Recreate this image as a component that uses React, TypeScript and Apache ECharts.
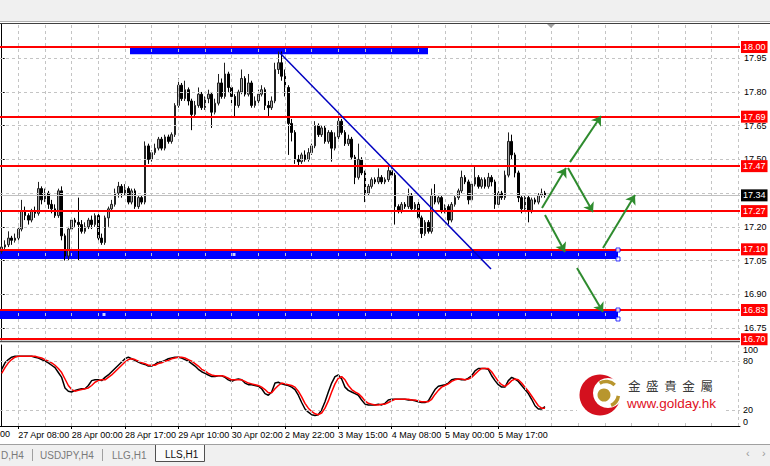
import React, { useEffect, useRef } from 'react';
import * as echarts from 'echarts';

// ---------- data ----------
const timeLabels = ['27 Apr 08:00', '28 Apr 00:00', '28 Apr 17:00', '29 Apr 10:00', '30 Apr 02:00', '2 May 22:00', '3 May 15:00', '4 May 08:00', '5 May 00:00', '5 May 17:00'];
const timeLabelBars = [5, 21, 37, 53, 69, 85, 101, 117, 133, 149];
const TOTAL_BARS = 222;

// [open, close, low, high]
const candles: number[][] = [
  [17.09, 17.11, 17.08, 17.12], [17.11, 17.12, 17.10, 17.14], [17.12, 17.15, 17.11, 17.18], [17.15, 17.14, 17.12, 17.16], [17.14, 17.15, 17.13, 17.17],
  [17.15, 17.19, 17.14, 17.20], [17.19, 17.27, 17.18, 17.32], [17.27, 17.25, 17.23, 17.29], [17.25, 17.23, 17.21, 17.26], [17.23, 17.27, 17.22, 17.28],
  [17.27, 17.26, 17.24, 17.29], [17.26, 17.37, 17.25, 17.40], [17.37, 17.32, 17.30, 17.38], [17.32, 17.35, 17.31, 17.37], [17.35, 17.30, 17.28, 17.36],
  [17.30, 17.28, 17.26, 17.32], [17.28, 17.25, 17.24, 17.30], [17.25, 17.36, 17.24, 17.37], [17.36, 17.16, 17.14, 17.38], [17.16, 17.07, 17.05, 17.17],
  [17.07, 17.19, 17.05, 17.20], [17.19, 17.23, 17.18, 17.24], [17.23, 17.22, 17.20, 17.24], [17.22, 17.21, 17.05, 17.33], [17.21, 17.18, 17.17, 17.23],
  [17.18, 17.20, 17.17, 17.22], [17.20, 17.23, 17.19, 17.24], [17.23, 17.21, 17.19, 17.25], [17.21, 17.25, 17.20, 17.26], [17.25, 17.15, 17.14, 17.26],
  [17.15, 17.13, 17.12, 17.17], [17.13, 17.24, 17.12, 17.25], [17.24, 17.28, 17.20, 17.29], [17.28, 17.30, 17.27, 17.32], [17.30, 17.35, 17.29, 17.37],
  [17.35, 17.38, 17.33, 17.40], [17.38, 17.35, 17.33, 17.39], [17.35, 17.37, 17.34, 17.39], [17.37, 17.31, 17.30, 17.38], [17.31, 17.36, 17.30, 17.37],
  [17.36, 17.29, 17.28, 17.37], [17.29, 17.33, 17.28, 17.34], [17.33, 17.31, 17.30, 17.34], [17.31, 17.56, 17.30, 17.58], [17.56, 17.50, 17.48, 17.57],
  [17.50, 17.53, 17.49, 17.54], [17.53, 17.55, 17.52, 17.57], [17.55, 17.59, 17.54, 17.60], [17.59, 17.55, 17.54, 17.60], [17.55, 17.60, 17.54, 17.61],
  [17.60, 17.58, 17.57, 17.61], [17.58, 17.61, 17.57, 17.62], [17.61, 17.74, 17.60, 17.75], [17.74, 17.83, 17.73, 17.86], [17.83, 17.77, 17.76, 17.84],
  [17.77, 17.81, 17.76, 17.85], [17.81, 17.76, 17.74, 17.82], [17.76, 17.70, 17.63, 17.77], [17.70, 17.74, 17.69, 17.76], [17.74, 17.79, 17.73, 17.82],
  [17.79, 17.73, 17.72, 17.80], [17.73, 17.77, 17.72, 17.78], [17.77, 17.79, 17.75, 17.81], [17.79, 17.71, 17.64, 17.80], [17.71, 17.75, 17.70, 17.77],
  [17.75, 17.84, 17.74, 17.88], [17.84, 17.78, 17.77, 17.86], [17.78, 17.88, 17.77, 17.93], [17.88, 17.82, 17.80, 17.89], [17.82, 17.78, 17.74, 17.83],
  [17.78, 17.74, 17.69, 17.79], [17.74, 17.80, 17.73, 17.81], [17.80, 17.86, 17.79, 17.90], [17.86, 17.79, 17.78, 17.87], [17.79, 17.84, 17.78, 17.88],
  [17.84, 17.74, 17.73, 17.85], [17.74, 17.76, 17.73, 17.78], [17.76, 17.79, 17.75, 17.81], [17.79, 17.81, 17.78, 17.83], [17.81, 17.74, 17.72, 17.82],
  [17.74, 17.73, 17.69, 17.76], [17.73, 17.76, 17.72, 17.78], [17.76, 17.90, 17.75, 17.93], [17.90, 17.93, 17.88, 17.98], [17.93, 17.87, 17.85, 17.98],
  [17.87, 17.82, 17.78, 17.90], [17.82, 17.66, 17.52, 17.83], [17.66, 17.62, 17.58, 17.68], [17.62, 17.50, 17.48, 17.63], [17.50, 17.49, 17.47, 17.52],
  [17.49, 17.52, 17.48, 17.53], [17.52, 17.50, 17.49, 17.54], [17.50, 17.53, 17.49, 17.55], [17.53, 17.56, 17.52, 17.57], [17.56, 17.65, 17.55, 17.67],
  [17.65, 17.61, 17.60, 17.66], [17.61, 17.64, 17.60, 17.65], [17.64, 17.58, 17.57, 17.65], [17.58, 17.62, 17.57, 17.63], [17.62, 17.55, 17.49, 17.63],
  [17.55, 17.60, 17.54, 17.62], [17.60, 17.67, 17.59, 17.70], [17.67, 17.62, 17.61, 17.68], [17.62, 17.57, 17.56, 17.63], [17.57, 17.59, 17.56, 17.61],
  [17.59, 17.51, 17.50, 17.60], [17.51, 17.42, 17.39, 17.52], [17.42, 17.50, 17.41, 17.57], [17.50, 17.44, 17.43, 17.51], [17.44, 17.35, 17.31, 17.45],
  [17.35, 17.38, 17.34, 17.39], [17.38, 17.41, 17.37, 17.42], [17.41, 17.40, 17.39, 17.42], [17.40, 17.42, 17.39, 17.46], [17.42, 17.40, 17.39, 17.43],
  [17.40, 17.41, 17.39, 17.42], [17.41, 17.45, 17.40, 17.47], [17.45, 17.43, 17.42, 17.46], [17.43, 17.29, 17.21, 17.44], [17.29, 17.27, 17.26, 17.30],
  [17.27, 17.30, 17.26, 17.31], [17.30, 17.29, 17.28, 17.31], [17.29, 17.34, 17.28, 17.37], [17.34, 17.28, 17.27, 17.35], [17.28, 17.30, 17.27, 17.31],
  [17.30, 17.24, 17.23, 17.31], [17.24, 17.17, 17.15, 17.25], [17.17, 17.22, 17.16, 17.23], [17.22, 17.18, 17.17, 17.23], [17.18, 17.34, 17.17, 17.37],
  [17.34, 17.31, 17.30, 17.39], [17.31, 17.33, 17.30, 17.34], [17.33, 17.27, 17.26, 17.34], [17.27, 17.29, 17.26, 17.30], [17.29, 17.23, 17.21, 17.30],
  [17.23, 17.30, 17.22, 17.31], [17.30, 17.33, 17.29, 17.34], [17.33, 17.36, 17.32, 17.37], [17.36, 17.42, 17.35, 17.45], [17.42, 17.40, 17.39, 17.43],
  [17.40, 17.32, 17.30, 17.41], [17.32, 17.39, 17.31, 17.40], [17.39, 17.42, 17.38, 17.47], [17.42, 17.38, 17.37, 17.43], [17.38, 17.41, 17.37, 17.42],
  [17.41, 17.38, 17.37, 17.42], [17.38, 17.42, 17.37, 17.44], [17.42, 17.40, 17.38, 17.43], [17.40, 17.30, 17.28, 17.41], [17.30, 17.35, 17.29, 17.36],
  [17.35, 17.33, 17.32, 17.36], [17.33, 17.43, 17.32, 17.45], [17.43, 17.58, 17.42, 17.62], [17.58, 17.52, 17.50, 17.61], [17.52, 17.44, 17.42, 17.53],
  [17.44, 17.33, 17.31, 17.45], [17.33, 17.28, 17.26, 17.34], [17.28, 17.33, 17.27, 17.34], [17.33, 17.27, 17.22, 17.34], [17.27, 17.32, 17.26, 17.33],
  [17.32, 17.31, 17.30, 17.33], [17.31, 17.34, 17.30, 17.35], [17.34, 17.35, 17.33, 17.37], [17.35, 17.34, 17.33, 17.36],
];

const stochK = [
  70, 78, 82, 85, 86, 86, 86, 86, 86, 86,
  85, 84, 82, 80, 78, 75, 72, 66, 60, 47,
  43, 42, 44, 45, 46, 46, 50, 56, 57, 57,
  56, 60, 63, 67, 71, 75, 79, 83, 85, 83,
  81, 79, 77, 76, 74, 74, 76, 79, 79, 81,
  83, 84, 85, 85, 84, 82, 80, 77, 74, 70,
  67, 65, 63, 61, 61, 62, 62, 60, 57, 55,
  57, 58, 57, 53, 51, 51, 50, 49, 46, 40,
  38, 42, 53, 54, 52, 51, 50, 48, 45, 38,
  29, 21, 17, 14, 13, 14, 20, 30, 42, 53,
  61, 63, 58, 48, 44, 42, 40, 38, 32, 27,
  26, 26, 26, 27, 26, 28, 32, 33, 33, 33,
  33, 33, 32, 32, 31, 30, 29, 29, 31, 38,
  45, 49, 50, 51, 53, 57, 58, 58, 57, 57,
  59, 62, 68, 71, 71, 71, 70, 62, 56, 51,
  48, 48, 56, 60, 58, 55, 50, 45, 40, 33,
  25, 21, 21, 24,
];
const stochD = [
  65, 72, 78, 82, 85, 86, 86, 86, 86, 86,
  86, 85, 84, 82, 80, 78, 75, 71, 66, 58,
  50, 45, 43, 44, 45, 46, 47, 50, 54, 56,
  57, 57, 60, 63, 67, 71, 75, 79, 82, 83,
  82, 80, 78, 77, 75, 75, 75, 77, 78, 80,
  81, 83, 84, 85, 85, 84, 82, 80, 77, 74,
  70, 68, 65, 63, 62, 62, 62, 61, 59, 57,
  57, 57, 57, 55, 53, 52, 51, 50, 48, 45,
  41, 41, 46, 50, 53, 52, 51, 50, 48, 43,
  36, 28, 22, 18, 15, 14, 16, 22, 31, 42,
  52, 59, 61, 57, 50, 45, 42, 40, 36, 31,
  28, 27, 26, 26, 27, 27, 29, 31, 33, 33,
  33, 33, 33, 32, 32, 31, 30, 30, 30, 33,
  39, 44, 48, 50, 52, 55, 57, 58, 58, 57,
  58, 60, 64, 68, 71, 71, 71, 67, 61, 55,
  51, 49, 52, 56, 58, 57, 53, 48, 43, 37,
  31, 25, 22, 22,
];

const levelPrices = [18.0, 17.69, 17.47, 17.27, 17.1, 16.83, 16.7];
const currentPrice = 17.34;
const priceGridValues = [16.75, 16.9, 17.05, 17.2, 17.35, 17.5, 17.65, 17.8, 17.95];
const priceLabelValues = [16.75, 16.9, 17.05, 17.2, 17.5, 17.65, 17.8, 17.95];
const stochGridValues = [20, 80];
const stochLabelValues = [0, 20, 80, 100];
// zones: [fromBar, toBar, topPrice, bottomPrice]
const zones = [
  [38.5, 127.9, 17.997, 17.968],
  [-0.5, 184.9, 17.097, 17.057],
  [-0.5, 184.9, 16.83, 16.79],
];
const zoneHandles = [[184.9, 17.097], [184.9, 17.057], [184.9, 16.83], [184.9, 16.79]];
const zoneCenters = [[69.7, 17.077], [30.7, 16.81]];
const trendLine = [[83.5, 17.973], [146.8, 17.0125]];
const arrows = [
  [[162.1, 17.284], [169.3, 17.462]],
  [[170.5, 17.488], [179.8, 17.693]],
  [[169.9, 17.462], [177.4, 17.266]],
  [[180.4, 17.106], [190.0, 17.342]],
  [[163.0, 17.253], [169.0, 17.088]],
  [[172.6, 17.017], [180.4, 16.821]],
];

const PRICE_MAX = 18.1023;
const PRICE_MIN = 16.6966;
const FONT = "'Liberation Sans', Arial, sans-serif";

export default function App() {
  const ref = useRef<HTMLDivElement>(null);
  useEffect(() => {
    if (!ref.current) return;
    const chart = echarts.init(ref.current, null, { renderer: 'svg' });
    const cats = Array.from({ length: TOTAL_BARS }, (_, i) => String(i));
    const vGrid: number[] = [];
    for (let i = timeLabelBars[0]; i < TOTAL_BARS; i += 8) vGrid.push(i);
    const showLabel = (idx: number) => timeLabelBars.indexOf(idx) >= 0;
    const dash = { color: '#c4c4c4', type: [3, 3] as any, width: 1 };
    const gold = '#b8962e';

    const option: any = {
      animation: false,
      backgroundColor: '#ffffff',
      grid: [
        { left: 0, right: 30, top: 24, height: 316 },
        { left: 0, right: 30, top: 345, height: 81 },
      ],
      xAxis: [
        { type: 'category', gridIndex: 0, data: cats, show: false, boundaryGap: true },
        { type: 'value', gridIndex: 0, min: -0.5, max: TOTAL_BARS - 0.5, show: false },
        {
          type: 'category', gridIndex: 1, data: cats, boundaryGap: true,
          axisLine: { show: true, lineStyle: { color: '#000', width: 1 } },
          axisTick: { show: true, interval: (i: number) => showLabel(i), alignWithLabel: true, length: 3, lineStyle: { color: '#000' } },
          axisLabel: {
            interval: (i: number) => showLabel(i),
            formatter: (_v: string, i: number) => { const k = timeLabelBars.indexOf(i); return k >= 0 ? timeLabels[k] : ''; },
            align: 'left', color: '#000', fontSize: 9, fontFamily: FONT, margin: 4,
          },
          splitLine: { show: false },
        },
        { type: 'value', gridIndex: 1, min: -0.5, max: TOTAL_BARS - 0.5, show: false },
      ],
      yAxis: [
        {
          type: 'value', gridIndex: 0, position: 'right', min: PRICE_MIN, max: PRICE_MAX,
          axisLine: { show: true, lineStyle: { color: '#000', width: 1 } },
          axisTick: { show: true, customValues: priceLabelValues, length: 3, lineStyle: { color: '#000' } },
          axisLabel: { customValues: priceLabelValues, formatter: (v: number) => v.toFixed(2), color: '#000', fontSize: 9, fontFamily: FONT, margin: 4, padding: [3, 0, 0, 0] },
          splitLine: { show: false },
        },
        {
          type: 'value', gridIndex: 1, position: 'right', min: 0, max: 100, interval: 20,
          axisLine: { show: true, lineStyle: { color: '#000', width: 1 } },
          axisTick: { show: false },
          axisLabel: {
            formatter: (v: number) => (stochLabelValues.indexOf(v) >= 0 ? String(v) : ''),
            color: '#000', fontSize: 9, fontFamily: FONT, margin: 3,
            verticalAlignMinLabel: 'bottom', verticalAlignMaxLabel: 'top',
          },
          splitLine: { show: false },
        },
      ],
      series: [
        {
          name: 'grid-main', type: 'line', xAxisIndex: 1, yAxisIndex: 0, data: [], z: 1,
          markLine: {
            silent: true, symbol: ['none', 'none'], label: { show: false }, lineStyle: dash,
            data: [
              ...priceGridValues.map((v) => ({ yAxis: v })),
              ...vGrid.map((v) => ({ xAxis: v })),
              {
                yAxis: currentPrice, lineStyle: { color: '#c0c0c0', type: 'solid', width: 1 },
                label: { show: true, position: 'end', distance: 1, formatter: currentPrice.toFixed(2), color: '#fff', backgroundColor: '#000', padding: [2, 2, 1, 2], fontSize: 9, fontFamily: FONT },
              },
            ],
          },
        },
        {
          name: 'zones', type: 'line', xAxisIndex: 1, yAxisIndex: 0, data: [], z: 2,
          markArea: {
            silent: true, itemStyle: { color: '#0000ff' },
            data: zones.map((z) => [{ coord: [z[0], z[2]] }, { coord: [z[1], z[3]] }]),
          },
        },
        {
          name: 'LLS', type: 'candlestick', xAxisIndex: 0, yAxisIndex: 0, data: candles, z: 3,
          barWidth: 2.4,
          itemStyle: { color: '#a8a8a8', color0: '#000000', borderColor: '#202020', borderColor0: '#000000', borderWidth: 1 },
        },
        {
          name: 'levels', type: 'line', xAxisIndex: 1, yAxisIndex: 0, data: [], z: 4,
          markLine: {
            silent: true, symbol: ['none', 'none'],
            lineStyle: { color: '#ff0000', width: 2, type: 'solid' },
            label: { show: true, position: 'end', distance: 1, color: '#fff', backgroundColor: '#ff0000', padding: [2, 2, 1, 2], fontSize: 9, fontFamily: FONT },
            data: levelPrices.map((p) => ({ yAxis: p, label: { formatter: p.toFixed(2) } })),
          },
        },
        {
          name: 'trend', type: 'line', xAxisIndex: 1, yAxisIndex: 0, data: trendLine, z: 5,
          symbol: 'none', lineStyle: { color: '#0000c0', width: 1.5 },
        },
        {
          name: 'arrows', type: 'line', xAxisIndex: 1, yAxisIndex: 0, data: [], z: 6,
          markLine: {
            silent: true, symbol: ['none', 'arrow'], symbolSize: 9, label: { show: false },
            lineStyle: { color: '#2e8b2e', width: 2, type: 'solid' },
            data: arrows.map((a) => [{ coord: a[0] }, { coord: a[1] }]),
          },
        },
        {
          name: 'handles', type: 'scatter', xAxisIndex: 1, yAxisIndex: 0, data: zoneHandles, z: 7,
          symbol: 'rect', symbolSize: 4, itemStyle: { color: '#fff', borderColor: '#0000ff', borderWidth: 1 },
        },
        {
          name: 'centers', type: 'scatter', xAxisIndex: 1, yAxisIndex: 0, data: zoneCenters, z: 7,
          symbol: 'rect', symbolSize: 3, itemStyle: { color: '#fff' },
        },
        {
          name: 'grid-stoch', type: 'line', xAxisIndex: 3, yAxisIndex: 1, data: [], z: 1,
          markLine: {
            silent: true, symbol: ['none', 'none'], label: { show: false }, lineStyle: dash,
            data: [...stochGridValues.map((v) => ({ yAxis: v })), ...vGrid.map((v) => ({ xAxis: v }))],
          },
        },
        {
          name: '%K', type: 'line', xAxisIndex: 2, yAxisIndex: 1, data: stochK, z: 3,
          symbol: 'none', lineStyle: { color: '#000000', width: 1.5 },
        },
        {
          name: '%D', type: 'line', xAxisIndex: 2, yAxisIndex: 1, data: stochD, z: 4,
          symbol: 'none', lineStyle: { color: '#ff0000', width: 1.5 },
        },
      ],
      graphic: [
        { type: 'rect', shape: { x: 0, y: 0, width: 770, height: 21 }, style: { fill: '#f0f0f0' }, z: 10 },
        { type: 'line', shape: { x1: 0, y1: 21.5, x2: 770, y2: 21.5 }, style: { stroke: '#b0b0b0', lineWidth: 1 }, z: 10 },
        { type: 'line', shape: { x1: 0, y1: 23.5, x2: 770, y2: 23.5 }, style: { stroke: '#404040', lineWidth: 1 }, z: 10 },
        { type: 'polygon', shape: { points: [[547, 24], [555, 24], [551, 28]] }, style: { fill: '#a0a0a0' }, z: 10 },
        { type: 'line', shape: { x1: 0, y1: 341.5, x2: 740, y2: 341.5 }, style: { stroke: '#505050', lineWidth: 1.5 }, z: 10 },
        // watermark
        { type: 'rect', shape: { x: 577, y: 363, width: 146, height: 58 }, style: { fill: '#ffffff' }, z: 10 },
        { type: 'circle', shape: { cx: 600, cy: 395, r: 20.5 }, style: { fill: '#d4101e' }, z: 11 },
        { type: 'circle', shape: { cx: 608, cy: 393, r: 15 }, style: { fill: '#ffffff' }, z: 11 },
        { type: 'arc', shape: { cx: 606, cy: 394, r: 12.5, startAngle: -2.1, endAngle: -0.8 }, style: { stroke: gold, lineWidth: 3.5, fill: 'none' }, z: 12 },
        { type: 'arc', shape: { cx: 606, cy: 394, r: 12.5, startAngle: 0.15, endAngle: 1.15 }, style: { stroke: gold, lineWidth: 3.5, fill: 'none' }, z: 12 },
        { type: 'circle', shape: { cx: 604, cy: 395, r: 6.5 }, style: { fill: gold }, z: 12 },
        { type: 'text', x: 628, y: 385, style: { text: '金  盛  貴  金  屬', fill: '#3a3a3a', font: "12.5px 'Noto Sans CJK TC', sans-serif", verticalAlign: 'middle' }, z: 12 },
        { type: 'text', x: 627, y: 403, style: { text: 'www.golday.hk', fill: '#e0101e', font: `13.5px ${FONT}`, verticalAlign: 'middle' }, z: 12 },
        // cut-off time label
        { type: 'text', x: 0, y: 434, style: { text: '00', fill: '#000', font: `9px ${FONT}`, verticalAlign: 'middle' }, z: 10 },
        // tab bar
        { type: 'line', shape: { x1: 0, y1: 444.5, x2: 770, y2: 444.5 }, style: { stroke: '#a0a0a0', lineWidth: 1 }, z: 10 },
        { type: 'rect', shape: { x: 0, y: 445, width: 770, height: 21 }, style: { fill: '#f0f0f0' }, z: 10 },
        { type: 'text', x: 1, y: 455, style: { text: 'D,H4', fill: '#7a7a7a', font: `10px ${FONT}`, verticalAlign: 'middle' }, z: 11 },
        { type: 'line', shape: { x1: 32.5, y1: 449, x2: 32.5, y2: 461 }, style: { stroke: '#a0a0a0', lineWidth: 1 }, z: 11 },
        { type: 'text', x: 40, y: 455, style: { text: 'USDJPY,H4', fill: '#7a7a7a', font: `10px ${FONT}`, verticalAlign: 'middle' }, z: 11 },
        { type: 'line', shape: { x1: 102.5, y1: 449, x2: 102.5, y2: 461 }, style: { stroke: '#a0a0a0', lineWidth: 1 }, z: 11 },
        { type: 'text', x: 112, y: 455, style: { text: 'LLG,H1', fill: '#7a7a7a', font: `10px ${FONT}`, verticalAlign: 'middle' }, z: 11 },
        { type: 'polyline', shape: { points: [[155.5, 445], [155.5, 461.5], [204.5, 461.5], [204.5, 445]] }, style: { stroke: '#505050', lineWidth: 1, fill: '#fbfbfb' }, z: 11 },
        { type: 'text', x: 165, y: 454, style: { text: 'LLS,H1', fill: '#111', font: `10px ${FONT}`, verticalAlign: 'middle' }, z: 12 },
        { type: 'text', x: 746, y: 453, style: { text: '‹', fill: '#9a9a9a', font: `11px ${FONT}`, verticalAlign: 'middle' }, z: 11 },
        { type: 'text', x: 762, y: 453, style: { text: '›', fill: '#9a9a9a', font: `11px ${FONT}`, verticalAlign: 'middle' }, z: 11 },
      ],
    };
    chart.setOption(option);
    return () => chart.dispose();
  }, []);
  return <div ref={ref} style={{ position: 'absolute', left: 0, top: 0, width: 770, height: 466 }} />;
}
